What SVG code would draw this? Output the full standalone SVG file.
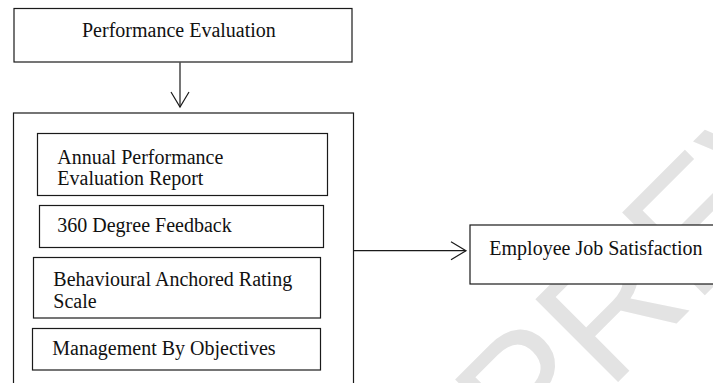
<svg xmlns="http://www.w3.org/2000/svg" width="713" height="383" viewBox="0 0 713 383">
<defs>
<style>
.box{fill:#fff;stroke:#1a1a1a;stroke-width:1.2}
.lbl{font-family:"Liberation Serif","Times New Roman",serif;font-size:20px;fill:#111}
.conn{fill:none;stroke:#1a1a1a;stroke-width:1.2}
.wm{font-family:"Liberation Sans",Arial,sans-serif;font-size:170px;fill:#e3e3e3}
</style>
<marker id="open" markerUnits="userSpaceOnUse" markerWidth="20" markerHeight="22" viewBox="0 0 20 22" refX="17" refY="11" orient="auto">
<path d="M2,2 L17,11 L2,20" fill="none" stroke="#1a1a1a" stroke-width="1.2"/>
</marker>
</defs>
<rect width="713" height="383" fill="#fff"/>
<g id="watermark">
<text class="wm" x="0" y="0" transform="translate(528,472) rotate(-45)">PREVIEW</text>
</g>
<g id="performance-evaluation">
<rect class="box" x="14" y="8.5" width="338" height="53.5"/>
<text class="lbl" x="82" y="36.5">Performance Evaluation</text>
</g>
<g id="methods-container">
<rect class="box" x="13.5" y="113" width="340" height="290"/>
</g>
<g id="annual-performance">
<rect class="box" x="37.5" y="133.5" width="290" height="62"/>
<text class="lbl" x="57.3" y="164">Annual Performance</text>
<text class="lbl" x="57.3" y="185">Evaluation Report</text>
</g>
<g id="degree-360">
<rect class="box" x="39.5" y="205.5" width="284" height="42"/>
<text class="lbl" x="57.3" y="231.5">360 Degree Feedback</text>
</g>
<g id="bars">
<rect class="box" x="33.5" y="257.5" width="287" height="60.5"/>
<text class="lbl" x="53.3" y="286">Behavioural Anchored Rating</text>
<text class="lbl" x="53.3" y="308">Scale</text>
</g>
<g id="mbo">
<rect class="box" x="32.5" y="328.5" width="288" height="41.5"/>
<text class="lbl" x="52.3" y="355">Management By Objectives</text>
</g>
<g id="employee-job-satisfaction">
<rect class="box" x="470" y="225" width="260" height="59"/>
<text class="lbl" x="489.3" y="255">Employee Job Satisfaction</text>
</g>
<g id="connectors">
<line class="conn" x1="180" y1="62.5" x2="180" y2="107" marker-end="url(#open)"/>
<line class="conn" x1="354" y1="250.7" x2="466" y2="250.7" marker-end="url(#open)"/>
</g>
</svg>
